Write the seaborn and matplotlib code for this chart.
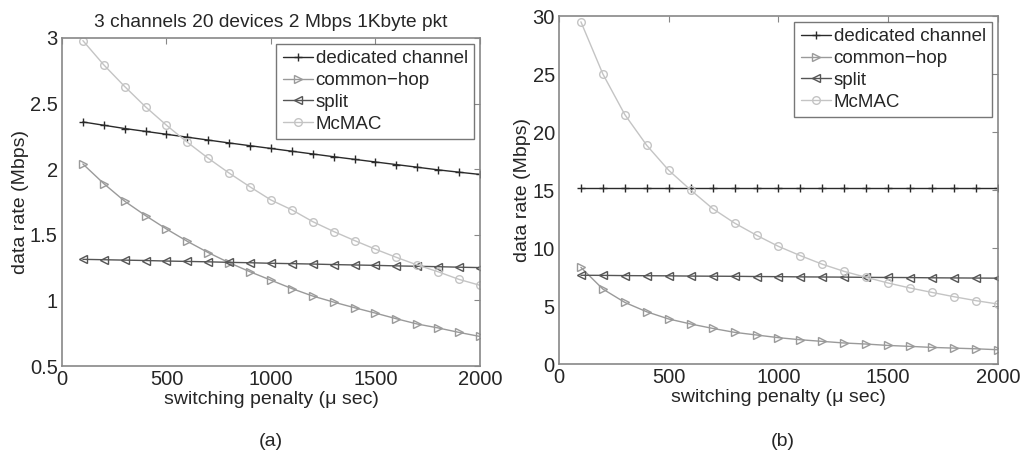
import numpy as np
import pandas as pd
import matplotlib
matplotlib.use("Agg")
import matplotlib.pyplot as plt
import seaborn as sns

# ---------------- data ----------------
penalty = [100, 200, 300, 400, 500, 600, 700, 800, 900, 1000,
           1100, 1200, 1300, 1400, 1500, 1600, 1700, 1800, 1900, 2000]

a_dedicated = [2.36, 2.335, 2.31, 2.288, 2.266, 2.244, 2.222, 2.200, 2.179, 2.158,
               2.137, 2.116, 2.095, 2.075, 2.055, 2.035, 2.015, 1.995, 1.977, 1.96]
a_common = [2.04, 1.89, 1.756, 1.646, 1.544, 1.45, 1.364, 1.287, 1.218, 1.154,
            1.09, 1.033, 0.987, 0.944, 0.903, 0.86, 0.82, 0.79, 0.756, 0.725]
a_split = [1.313, 1.310, 1.307, 1.304, 1.300, 1.297, 1.294, 1.290, 1.287, 1.283,
           1.280, 1.277, 1.273, 1.270, 1.267, 1.263, 1.260, 1.257, 1.253, 1.250]
a_mcmac = [2.98, 2.795, 2.63, 2.475, 2.335, 2.205, 2.083, 1.97, 1.865, 1.765,
           1.69, 1.60, 1.525, 1.456, 1.39, 1.328, 1.27, 1.218, 1.16, 1.115]

b_dedicated = [15.2] * 20
b_common = [8.33, 6.46, 5.31, 4.5, 3.88, 3.45, 3.07, 2.73, 2.5, 2.27,
            2.09, 1.95, 1.81, 1.72, 1.6, 1.52, 1.43, 1.37, 1.31, 1.23]
b_split = [7.65, 7.64, 7.62, 7.61, 7.6, 7.58, 7.57, 7.56, 7.54, 7.53,
           7.51, 7.5, 7.49, 7.47, 7.46, 7.45, 7.43, 7.42, 7.41, 7.4]
b_mcmac = [29.5, 25.0, 21.5, 18.85, 16.7, 15.0, 13.4, 12.15, 11.1, 10.14,
           9.34, 8.6, 7.98, 7.47, 6.98, 6.55, 6.17, 5.8, 5.46, 5.17]

labels = ["dedicated channel", "common\u2212hop", "split", "McMAC"]
title_a = "3 channels 20 devices 2 Mbps 1Kbyte pkt"
xlabel = "switching penalty (\u03bc sec)"
ylabel = "data rate (Mbps)"
xticks = [0, 500, 1000, 1500, 2000]
yticks_a = [0.5, 1, 1.5, 2, 2.5, 3]
yticks_b = [0, 5, 10, 15, 20, 25, 30]

# ---------------- style ----------------
sns.set_style("white")
plt.rcParams['font.family'] = ['Liberation Sans', 'DejaVu Sans']
plt.rcParams['font.size'] = 14

colors = ["#2a2a2a", "#9a9a9a", "#555555", "#c4c4c4"]
markers = ["+", ">", "<", "o"]

fig = plt.figure(figsize=(10.23, 4.55), dpi=100)
ax_a = fig.add_axes([0.0606, 0.1956, 0.4086, 0.7209])
ax_b = fig.add_axes([0.5464, 0.2000, 0.4291, 0.7648])


def draw(ax, series, ylim, yticks):
    for vals, lab, col, mk in zip(series, labels, colors, markers):
        sns.lineplot(x=penalty, y=vals, ax=ax, color=col, marker=mk,
                     markersize=5.5 if mk != "+" else 6,
                     markerfacecolor="none", markeredgecolor=col,
                     markeredgewidth=1.0, linewidth=1.0, label=lab)
    ax.set_xlim(0, 2000)
    ax.set_ylim(*ylim)
    ax.set_xticks(xticks)
    ax.set_yticks(yticks)
    ax.set_yticklabels([f"{t:g}" for t in yticks])
    ax.tick_params(direction="in", length=4, top=True, right=True,
                   labelsize=14.5, color="#888888", pad=3)
    for sp in ax.spines.values():
        sp.set_color("#888888")
        sp.set_linewidth(1.2)
    ax.set_xlabel(xlabel, fontsize=14, labelpad=1)
    ax.set_ylabel(ylabel, fontsize=14, labelpad=1)
    leg = ax.legend(loc="upper right", fontsize=13.5, frameon=True,
                    fancybox=False, handlelength=1.6, handletextpad=0.15,
                    borderpad=0.35, labelspacing=0.25, borderaxespad=0.3)
    leg.get_frame().set_edgecolor("#555555")
    leg.get_frame().set_linewidth(1.0)


draw(ax_a, [a_dedicated, a_common, a_split, a_mcmac], (0.5, 3), yticks_a)
draw(ax_b, [b_dedicated, b_common, b_split, b_mcmac], (0, 30), yticks_b)

ax_a.set_title(title_a, fontsize=13.8, pad=8)

fig.text(271 / 1023, 1 - 442 / 455, "(a)", ha="center", va="center", fontsize=14)
fig.text(783 / 1023, 1 - 442 / 455, "(b)", ha="center", va="center", fontsize=14)

fig.savefig("out.png", dpi=100)
